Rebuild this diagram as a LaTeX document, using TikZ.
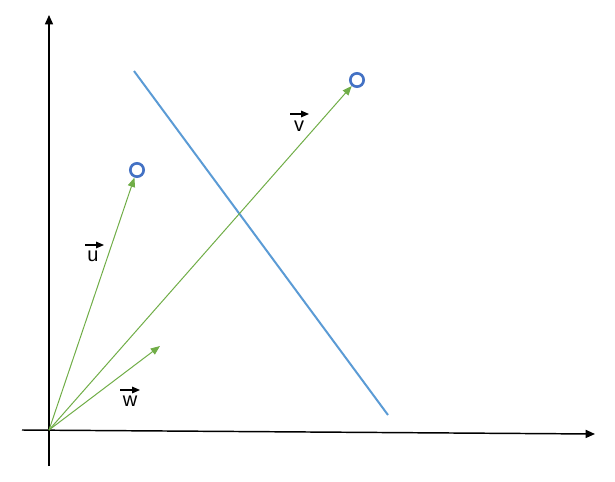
\documentclass[tikz,border=0pt]{standalone}
\usepackage{fontspec}
\setmainfont{Liberation Sans}
\usetikzlibrary{arrows.meta}
\definecolor{vgreen}{HTML}{70AD47}
\definecolor{lblue}{HTML}{5B9BD5}
\definecolor{cblue}{HTML}{4472C4}
\begin{document}
\begin{tikzpicture}[x=0.75pt,y=-0.75pt,
  axis/.style={draw=black,line width=1.1pt,-{Triangle[length=7pt,width=6pt]}},
  vecarrow/.style={draw=vgreen,line width=0.75pt,-{Triangle[length=7pt,width=5.5pt]}},
  endpt/.style={circle,draw=cblue,line width=2pt,minimum size=10pt,inner sep=0pt},
  lbl/.style={font=\fontsize{15pt}{17pt}\selectfont,inner sep=0pt},
  lblarrow/.style={draw=black,line width=0.8pt,-{Triangle[length=6pt,width=5pt]}}]
\useasboundingbox (0,0) rectangle (615,482);
\coordinate (O) at (49,430);
\coordinate (ybot) at (49,466);
\coordinate (ytop) at (49,15);
\coordinate (xleft) at (22,430);
\coordinate (xright) at (595,434);
\draw[axis] (ybot) -- (ytop);
\draw[axis] (xleft) -- (xright);
% blue separating line
\coordinate (l1) at (134,71);
\coordinate (l2) at (388,415);
\draw[draw=lblue,line width=1.5pt] (l1) -- (l2);
% end points
\node[endpt] (cu) at (137,170) {};
\node[endpt] (cv) at (357,80) {};
\coordinate (wend) at (160,346);
% vectors
\draw[vecarrow] (O) -- (cu);
\draw[vecarrow] (O) -- (cv);
\draw[vecarrow] (O) -- (wend);
% labels
\node[lbl] (lu) at (93,256) {u};
\node[lbl] (lv) at (299,126) {v};
\node[lbl] (lw) at (130,401) {w};
\coordinate (au1) at (85,245); \coordinate (au2) at (104,245);
\coordinate (av1) at (290,114); \coordinate (av2) at (309,114);
\coordinate (aw1) at (120,390); \coordinate (aw2) at (140,390);
\draw[lblarrow] (au1) -- (au2);
\draw[lblarrow] (av1) -- (av2);
\draw[lblarrow] (aw1) -- (aw2);
\end{tikzpicture}
\end{document}
